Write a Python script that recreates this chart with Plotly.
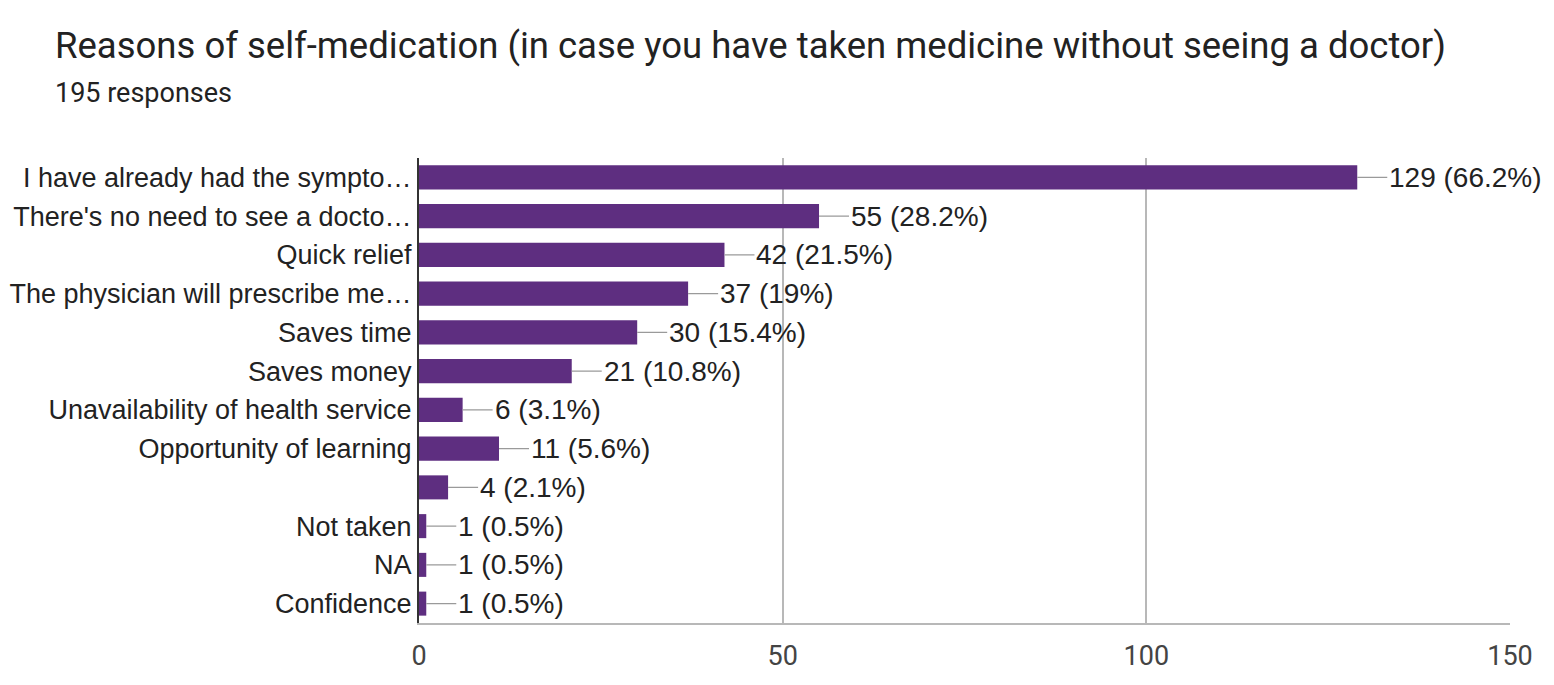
import plotly.graph_objects as go

# survey answers, top to bottom as in the form summary
reasons = [
    "I have already had the sympto…",
    "There's no need to see a docto…",
    "Quick relief",
    "The physician will prescribe me…",
    "Saves time",
    "Saves money",
    "Unavailability of health service",
    "Opportunity of learning",
    " ",
    "Not taken",
    "NA",
    "Confidence",
]
counts = [129, 55, 42, 37, 30, 21, 6, 11, 4, 1, 1, 1]
pcts = ["66.2%", "28.2%", "21.5%", "19%", "15.4%", "10.8%", "3.1%", "5.6%", "2.1%",
        "0.5%", "0.5%", "0.5%"]
x_ticks = [0, 50, 100, 150]

# page body has an 8px margin, so the figure is drawn 8px in from the window edge
W, H = 1538, 669
L, R, T, B = 411, 36, 150, 54
PURPLE = "#5e2e80"
INK, GRID = "#222222", "#b8b8b8"
FONT = "Liberation Sans, Arial, sans-serif"
TFONT = "Roboto, sans-serif"

fig = go.Figure(go.Bar(x=counts, y=reasons, orientation="h",
                       marker=dict(color=PURPLE, line=dict(width=0))))

for c, r, p in zip(counts, reasons, pcts):
    fig.add_annotation(x=c, y=r, text=f"{c} ({p})", showarrow=True, arrowhead=0,
                       arrowwidth=1.3, arrowcolor="#9a9a9a", ax=30, ay=0,
                       xanchor="left", standoff=0,
                       font=dict(family=FONT, size=28, color=INK))

ph = H - T - B
pw = W - L - R
fig.add_annotation(xref="paper", yref="paper", x=(45 - L) / pw, y=(H - B - 37) / ph,
                   xanchor="left", yanchor="middle", showarrow=False,
                   text="Reasons of self-medication (in case you have taken medicine without seeing a doctor)",
                   font=dict(family=TFONT, size=36.5, color=INK))
fig.add_annotation(xref="paper", yref="paper", x=(45 - L) / pw, y=(H - B - 85) / ph,
                   xanchor="left", yanchor="middle", showarrow=False,
                   text="195 responses",
                   font=dict(family=TFONT, size=27, color=INK))

fig.update_layout(
    width=W, height=H, paper_bgcolor="white", plot_bgcolor="white",
    margin=dict(l=L, r=R, t=T, b=B, autoexpand=False), bargap=0.38, showlegend=False,
    font=dict(family=FONT, size=28, color=INK))
fig.update_xaxes(range=[0, 150], tickvals=x_ticks, showgrid=True, gridcolor=GRID,
                 gridwidth=1.5, zeroline=False, showline=True, linecolor=GRID,
                 linewidth=1.5, ticks="", ticklabelstandoff=8, automargin=False,
                 tickfont=dict(family=TFONT, size=27, color="#444444"))
fig.update_yaxes(autorange="reversed", showline=True, linecolor="#333333", linewidth=2,
                 ticks="", ticklabelstandoff=0, automargin=False,
                 tickfont=dict(size=27, color=INK))

fig.write_html("out.html")
